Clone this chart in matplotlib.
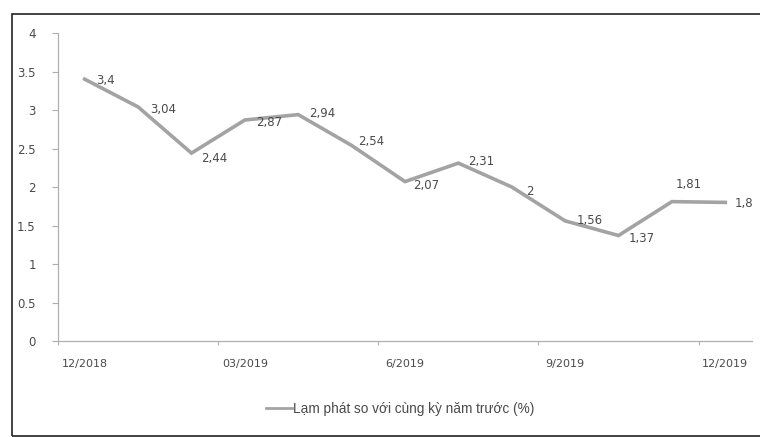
import matplotlib.pyplot as plt
from matplotlib.patches import Rectangle

months = ["12/2018", "01/2019", "02/2019", "03/2019", "04/2019", "05/2019", "6/2019",
          "07/2019", "08/2019", "9/2019", "10/2019", "11/2019", "12/2019"]
inflation = [3.4, 3.04, 2.44, 2.87, 2.94, 2.54, 2.07, 2.31, 2.0, 1.56, 1.37, 1.81, 1.8]
labels = ["3,4", "3,04", "2,44", "2,87", "2,94", "2,54", "2,07", "2,31", "2", "1,56", "1,37", "1,81", "1,8"]
shown_ticks = [0, 3, 6, 9, 12]
legend_label = "Lạm phát so với cùng kỳ năm trước (%)"

# label offsets in points (dx, dy), default is right of the point
offsets = {0: (8, -1), 1: (9, -2), 2: (7, -4), 3: (8, -2), 4: (8, 1), 5: (5, 3), 6: (6, -3),
           7: (7, 1), 8: (10, -3), 9: (8, 0), 10: (7, -2), 11: (3, 12), 12: (7, -1)}

gray = "#a3a3a3"
text_col = "#4a4a4a"

fig = plt.figure(figsize=(7.6, 4.37), dpi=100)
ax = fig.add_axes([58 / 760, 1 - 341 / 437, 694 / 760, 308 / 437])

x = list(range(len(inflation)))
ax.plot(x, inflation, color=gray, lw=2.6, label=legend_label, solid_joinstyle="miter")

for i, (v, lab) in enumerate(zip(inflation, labels)):
    dx, dy = offsets.get(i, (5, -1))
    ax.annotate(lab, (i, v), xytext=(dx, dy), textcoords="offset points",
                ha="left", va="center", fontsize=8.5, color=text_col)

ax.set_xlim(-0.5, 12.5)
ax.set_ylim(0, 4)
ax.set_yticks([0, 0.5, 1, 1.5, 2, 2.5, 3, 3.5, 4])
ax.set_yticklabels(["0", "0.5", "1", "1.5", "2", "2.5", "3", "3.5", "4"])
ax.set_xticks(shown_ticks)
ax.set_xticklabels([months[i] for i in shown_ticks])
ax.set_xticks([-0.5 + 3 * k for k in range(5)], minor=True)

ax.tick_params(axis="y", length=4, width=0.8, color="#b0b0b0", labelsize=8.5,
               labelcolor=text_col, pad=12)
ax.tick_params(axis="x", which="major", length=0, labelsize=8, labelcolor=text_col, pad=13)
ax.tick_params(axis="x", which="minor", length=3, width=0.8, color="#b0b0b0")

for side in ["top", "right"]:
    ax.spines[side].set_visible(False)
for side in ["left", "bottom"]:
    ax.spines[side].set_color("#b0b0b0")
    ax.spines[side].set_linewidth(0.9)

fig.legend(loc="center", bbox_to_anchor=(400 / 760, 1 - 409 / 437), frameon=False,
           prop={"family": "Liberation Sans", "size": 9.8}, labelcolor=text_col,
           handlelength=1.9, handletextpad=0.1)
for h in fig.legends[0].get_lines():
    h.set_linewidth(2)

border = Rectangle((12 / 760, 1 / 437), 1.0, 422 / 437, transform=fig.transFigure,
                   fill=False, edgecolor="#222222", lw=1.2, clip_on=False)
fig.patches.append(border)

fig.savefig("out.png", dpi=100)
